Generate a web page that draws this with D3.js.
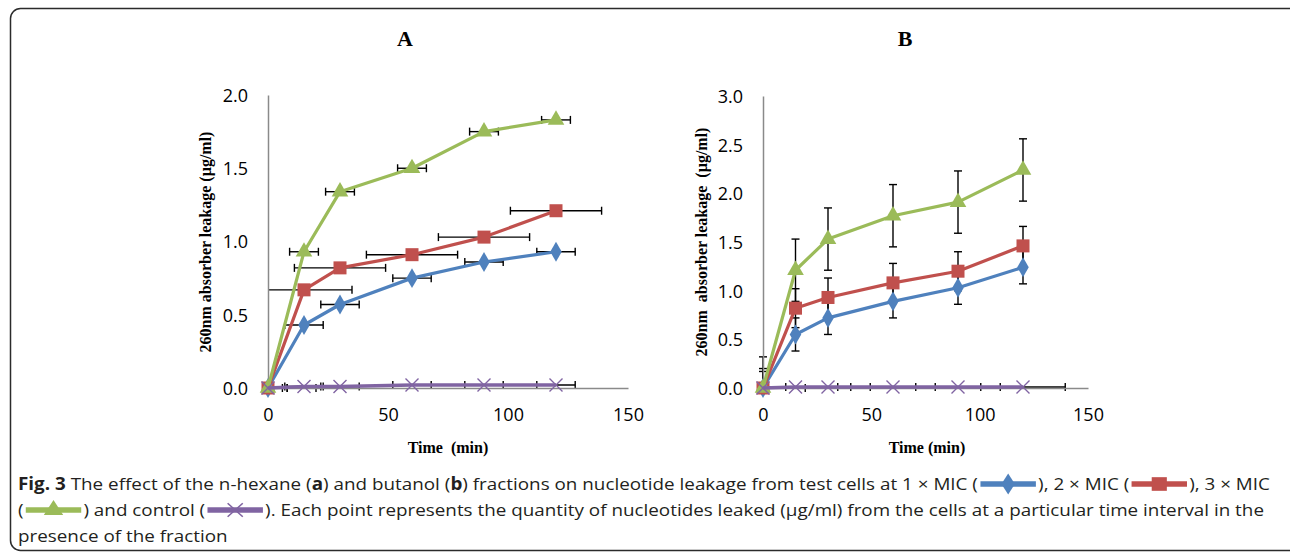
<!DOCTYPE html>
<html>
<head>
<meta charset="utf-8">
<script src="https://cdn.jsdelivr.net/npm/d3@7"></script>
<style>
  body { margin: 0; background: #fff; }
  svg { display: block; }
</style>
</head>
<body>
<svg width="1290" height="553"></svg>
<script>
// sampling times (min)
var times = [0, 15, 30, 60, 90, 120];

// panel A (n-hexane), values and horizontal error (min)
var aBlue   = [0, 0.43, 0.57, 0.75, 0.86, 0.93];
var aRed    = [0, 0.67, 0.82, 0.91, 1.03, 1.21];
var aGreen  = [0, 0.93, 1.34, 1.50, 1.75, 1.83];
var aPurple = [0, 0.01, 0.01, 0.02, 0.02, 0.02];
var aBlueErr   = [8, 8, 8, 8, 8, 8];
var aRedErr    = [20, 20, 19, 19, 19, 19];
var aGreenErr  = [6, 6, 6, 6, 6, 6];
var aPurpleErr = [8, 8, 8, 8, 8, 8];

// panel B (butanol), values and vertical error (ug/ml)
var bBlue   = [0, 0.55, 0.72, 0.89, 1.03, 1.24];
var bRed    = [0, 0.82, 0.93, 1.08, 1.20, 1.46];
var bGreen  = [0, 1.21, 1.53, 1.77, 1.91, 2.24];
var bPurple = [0, 0.01, 0.01, 0.01, 0.01, 0.01];
var bBlueErr   = [0.17, 0.17, 0.17, 0.17, 0.17, 0.17];
var bRedErr    = [0.2, 0.2, 0.2, 0.2, 0.2, 0.2];
var bGreenErr  = [0.32, 0.32, 0.32, 0.32, 0.32, 0.32];
var bPurpleXErr = [19.5, 19.5, 19.5, 19.5, 19.5, 19.5];

var xTicks = [0, 50, 100, 150];
var aYTicks = [0, 0.5, 1.0, 1.5, 2.0];
var bYTicks = [0, 0.5, 1.0, 1.5, 2.0, 2.5, 3.0];

var colors = {blue: "#4F81BD", red: "#C0504D", green: "#9BBB59", purple: "#8064A2"};
var shapes = {blue: "diamond", red: "square", green: "triangle", purple: "cross"};

var svg = d3.select("svg");

// rounded frame
svg.append("rect")
    .attr("x", 10.5).attr("y", 8.5)
    .attr("width", 1290).attr("height", 542)
    .attr("rx", 10)
    .attr("fill", "none").attr("stroke", "#2b2b2b").attr("stroke-width", 1.5);

function marker(g, shape, color, x, y, s) {
    s = s || 1;
    if (shape == "diamond") {
        g.append("path").attr("d", d3.symbol(d3.symbolDiamond, 115 * s * s)())
            .attr("transform", "translate(" + x + "," + y + ")").attr("fill", color);
    } else if (shape == "square") {
        g.append("rect").attr("x", x - 6.5 * s).attr("y", y - 6.5 * s)
            .attr("width", 13 * s).attr("height", 13 * s).attr("fill", color);
    } else if (shape == "triangle") {
        g.append("path").attr("d", d3.symbol(d3.symbolTriangle, 120 * s * s)())
            .attr("transform", "translate(" + x + "," + y + ")").attr("fill", color);
    } else {
        var r = 6.5 * s;
        g.append("path")
            .attr("d", "M" + (x - r) + "," + (y - r) + "L" + (x + r) + "," + (y + r) +
                       "M" + (x - r) + "," + (y + r) + "L" + (x + r) + "," + (y - r))
            .attr("stroke", color).attr("stroke-width", 1.4).attr("fill", "none");
    }
}

function drawPanel(opt) {
    var x = d3.scaleLinear().domain([0, 150]).range(opt.xr);
    var y = d3.scaleLinear().domain([0, opt.ymax]).range(opt.yr);
    var g = svg.append("g");

    // error bars first
    var eb = g.append("g").attr("stroke", "#000").attr("stroke-width", 1.4).attr("fill", "none");
    opt.series.forEach(function(s) {
        times.forEach(function(t, i) {
            var cy = y(s.values[i]), cx = x(t);
            if (s.xerr) {
                var x0 = Math.max(0, t - s.xerr[i]), x1 = t + s.xerr[i];
                eb.append("line").attr("x1", x(x0)).attr("x2", x(x1)).attr("y1", cy).attr("y2", cy);
                if (t - s.xerr[i] >= 0)
                    eb.append("line").attr("x1", x(x0)).attr("x2", x(x0)).attr("y1", cy - 4).attr("y2", cy + 4);
                eb.append("line").attr("x1", x(x1)).attr("x2", x(x1)).attr("y1", cy - 4).attr("y2", cy + 4);
            }
            if (s.yerr) {
                var y0 = Math.max(0, s.values[i] - s.yerr[i]), y1 = s.values[i] + s.yerr[i];
                eb.append("line").attr("x1", cx).attr("x2", cx).attr("y1", y(y0)).attr("y2", y(y1));
                eb.append("line").attr("x1", cx - 4).attr("x2", cx + 4).attr("y1", y(y1)).attr("y2", y(y1));
                if (s.values[i] - s.yerr[i] >= 0)
                    eb.append("line").attr("x1", cx - 4).attr("x2", cx + 4).attr("y1", y(y0)).attr("y2", y(y0));
            }
        });
    });

    // axes
    var ax = g.append("g").attr("transform", "translate(0," + opt.yr[0] + ")")
        .call(d3.axisBottom(x).tickValues(xTicks).tickSize(0).tickPadding(20).tickFormat(d3.format("d")));
    var ay = g.append("g").attr("transform", "translate(" + opt.xr[0] + ",0)")
        .call(d3.axisLeft(y).tickValues(opt.yTicks).tickSize(0).tickPadding(20).tickFormat(d3.format(".1f")));
    [ax, ay].forEach(function(a) {
        a.select(".domain").attr("stroke", "#8a8a8a").attr("stroke-width", 1.5);
        a.selectAll("text").attr("font-family", "Open Sans").attr("font-size", 18).attr("fill", "#000");
    });
    ay.selectAll("text").attr("dy", "0.36em");

    // lines and markers
    var line = d3.line().x(function(d) { return x(d[0]); }).y(function(d) { return y(d[1]); });
    opt.series.forEach(function(s) {
        var pts = times.map(function(t, i) { return [t, s.values[i]]; });
        g.append("path").datum(pts).attr("d", line)
            .attr("fill", "none").attr("stroke", colors[s.c])
            .attr("stroke-width", s.c == "purple" ? 3.6 : 3.2)
            .attr("stroke-linejoin", "round");
        pts.forEach(function(p) { marker(g, shapes[s.c], colors[s.c], x(p[0]), y(p[1])); });
    });

    // texts
    g.append("text").attr("x", opt.titleX).attr("y", 46).attr("text-anchor", "middle")
        .attr("font-family", "Liberation Serif").attr("font-weight", "bold").attr("font-size", 22)
        .text(opt.title);
    g.append("text").attr("x", opt.xLabX).attr("y", 453).attr("text-anchor", "middle")
        .attr("font-family", "Liberation Serif").attr("font-weight", "bold").attr("font-size", 16)
        .style("white-space", "pre").text(opt.xLab);
    g.append("text").attr("transform", "translate(" + opt.yLabX + ",242) rotate(-90)")
        .attr("text-anchor", "middle").attr("dy", "0.35em")
        .attr("font-family", "Liberation Serif").attr("font-weight", "bold").attr("font-size", 16)
        .style("white-space", "pre").text(opt.yLab);
}

drawPanel({
    xr: [268, 628], yr: [388, 95], ymax: 2, yTicks: aYTicks,
    title: "A", titleX: 405, xLab: "Time  (min)", xLabX: 448,
    yLab: "260nm absorber leakage (µg/ml)", yLabX: 205,
    series: [
        {c: "blue", values: aBlue, xerr: aBlueErr},
        {c: "red", values: aRed, xerr: aRedErr},
        {c: "green", values: aGreen, xerr: aGreenErr},
        {c: "purple", values: aPurple, xerr: aPurpleErr}
    ]
});

drawPanel({
    xr: [763, 1088], yr: [388, 96], ymax: 3, yTicks: bYTicks,
    title: "B", titleX: 905, xLab: "Time (min)", xLabX: 927,
    yLab: "260nm  absorber leakage  (µg/ml)", yLabX: 701,
    series: [
        {c: "blue", values: bBlue, yerr: bBlueErr},
        {c: "red", values: bRed, yerr: bRedErr},
        {c: "green", values: bGreen, yerr: bGreenErr},
        {c: "purple", values: bPurple, xerr: bPurpleXErr}
    ]
});

// caption with inline legend symbols
var capLines = [
    [["b", "Fig. 3"], ["t", " The effect of the n-hexane ("], ["b", "a"], ["t", ") and butanol ("], ["b", "b"],
     ["t", ") fractions on nucleotide leakage from test cells at 1 × MIC ("], ["s", "blue"],
     ["t", "), 2 × MIC ("], ["s", "red"], ["t", "), 3 × MIC"]],
    [["t", "("], ["s", "green"], ["t", ") and control ("], ["s", "purple"],
     ["t", "). Each point represents the quantity of nucleotides leaked (µg/ml) from the cells at a particular time interval in the"]],
    [["t", "presence of the fraction"]]
];
var capBase = [490, 516, 542];
var capFont = 17;
var symW = 54;

var capG = svg.append("g");
var lineGroups = capLines.map(function(parts, li) {
    var lg = capG.append("g");
    var cx = 0;
    parts.forEach(function(p) {
        if (p[0] == "s") {
            var yc = capBase[li] - 6;
            lg.append("line").attr("x1", cx + 2).attr("x2", cx + symW - 2).attr("y1", yc).attr("y2", yc)
                .attr("stroke", colors[p[1]]).attr("stroke-width", 5.5);
            marker(lg, shapes[p[1]], colors[p[1]], cx + symW / 2, yc, 1.05);
            cx += symW;
        } else {
            var t = lg.append("text").attr("x", cx).attr("y", capBase[li])
                .attr("font-family", "Open Sans").attr("font-size", capFont).attr("fill", "#231f20")
                .attr("font-weight", p[0] == "b" ? "bold" : "normal")
                .style("white-space", "pre").text(p[1]);
            cx += t.node().getComputedTextLength();
        }
    });
    return {g: lg, w: cx};
});
var sx = (1270 - 18) / lineGroups[0].w;
lineGroups.forEach(function(l) {
    l.g.attr("transform", "translate(18,0) scale(" + sx + ",1)");
});
</script>
</body>
</html>
